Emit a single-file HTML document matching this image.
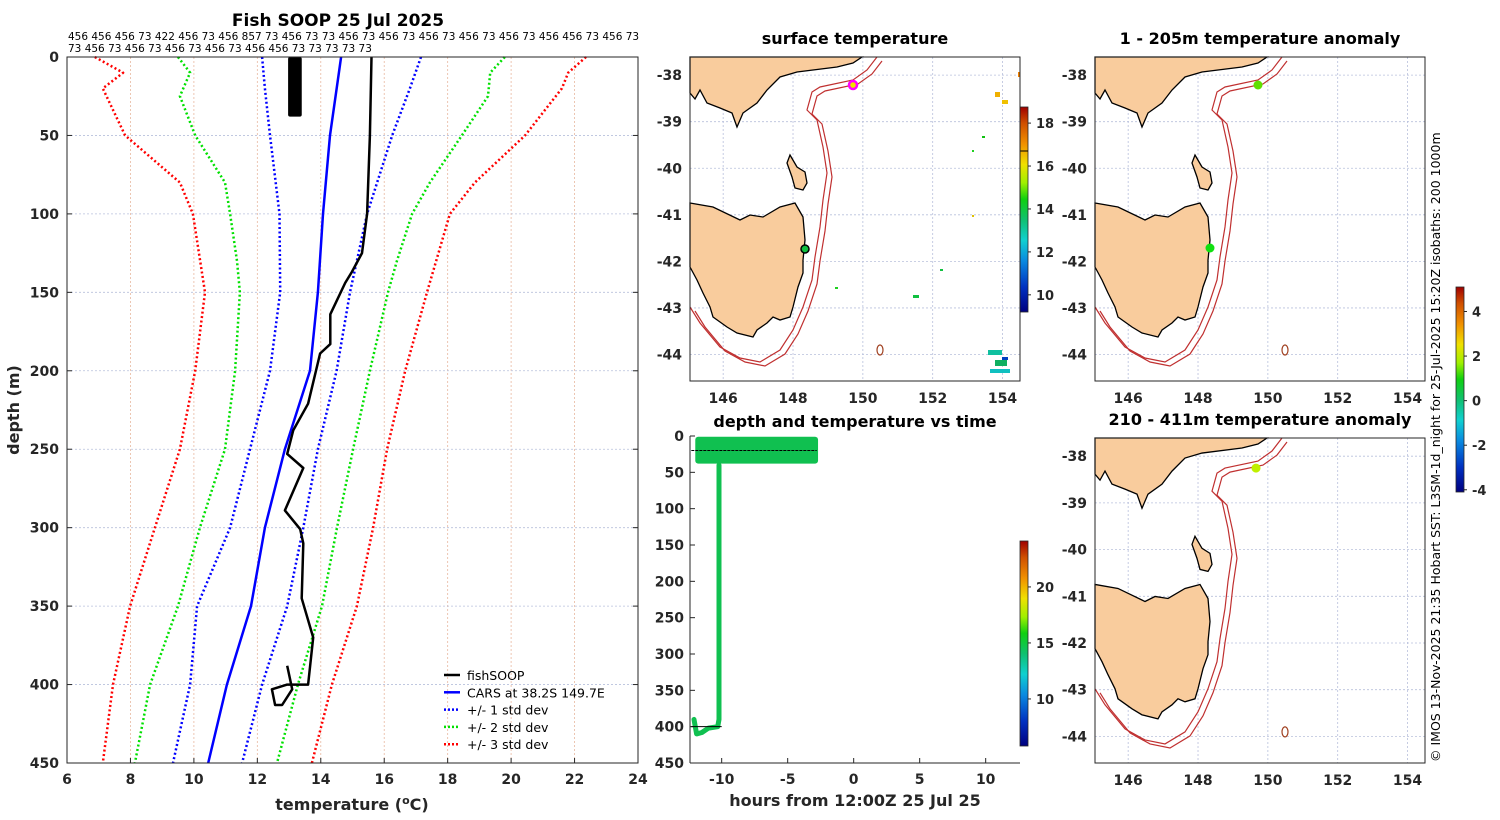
<!DOCTYPE html>
<html><head><meta charset="utf-8">
<style>
html,body{margin:0;padding:0;background:#fff;}
svg{display:block;font-family:"DejaVu Sans","Liberation Sans",sans-serif;}
.tk{font-size:14px;font-weight:bold;fill:#262626;}
.ttl{font-size:16px;font-weight:bold;fill:#000;}
.grid{stroke:#b8c0dc;stroke-width:0.8;stroke-dasharray:2,2;}
.vgrid{stroke:#e8b8a0;stroke-width:0.8;stroke-dasharray:2,2;}
</style></head>
<body>
<svg id="fig" width="1500" height="820" viewBox="0 0 1500 820" xmlns="http://www.w3.org/2000/svg">
<defs>
<linearGradient id="jet" x1="0" y1="1" x2="0" y2="0">
<stop offset="0" stop-color="#00007f"/><stop offset="0.12" stop-color="#0030c0"/><stop offset="0.25" stop-color="#0a8ae0"/><stop offset="0.35" stop-color="#10d0d0"/><stop offset="0.45" stop-color="#10c070"/><stop offset="0.55" stop-color="#10d010"/><stop offset="0.63" stop-color="#a0f000"/><stop offset="0.72" stop-color="#f0e000"/><stop offset="0.82" stop-color="#f09000"/><stop offset="0.92" stop-color="#d05000"/><stop offset="1" stop-color="#a00000"/>
</linearGradient>
</defs>
<g id="root"></g>
</svg>
<script>
// ---------- profile data (depth in m, temperature in degC) ----------
var fishDepth=[0,50,100,125,137,144,164,183,189,221,238,253,262,289,301,310,345,370,400,400,403,413,413,403,388];
var fishTemp=[15.6,15.55,15.46,15.3,14.98,14.77,14.3,14.3,13.98,13.6,13.13,12.94,13.45,12.87,13.35,13.45,13.4,13.76,13.6,12.94,12.46,12.56,12.78,13.1,12.94];
var carsDepth=[0,10,50,100,150,200,250,300,350,400,450];
var carsTemp=[14.64,14.57,14.29,14.07,13.91,13.66,12.87,12.24,11.8,11.04,10.45];
var stdDepth=[0,20,50,100,150,200,250,300,350,400,450];
var std1Lo=[12.15,12.24,12.4,12.7,12.72,12.4,11.77,11.14,10.1,9.88,9.34];
var std1Hi=[17.16,16.81,16.25,15.46,14.92,14.5,13.91,13.45,12.94,12.15,11.52];
var std2Depth=[0,10,25,50,80,100,130,150,200,250,300,350,400,450];
var std2Lo=[9.5,9.88,9.56,10.04,10.98,11.14,11.36,11.45,11.3,10.98,10.19,9.5,8.62,8.14];
var std2Hi=[19.8,19.34,19.27,18.45,17.44,16.88,16.4,16.12,15.55,15.02,14.51,14.04,13.28,12.62];
var std3Depth=[0,10,20,50,80,100,150,200,250,300,350,400,450];
var std3Lo=[6.88,7.77,7.13,7.83,9.56,9.97,10.35,10.04,9.56,8.77,7.99,7.45,7.13];
var std3Hi=[22.36,21.8,21.6,20.44,18.86,18.07,17.35,16.66,16.09,15.65,15.14,14.35,13.72];
var blobDepth=[0,38];
var blobTemp=[12.97,13.4];
var tempTicks=[6,8,10,12,14,16,18,20,22,24];
var depthTicks=[0,50,100,150,200,250,300,350,400,450];
// ---------- time series data (hours, depth) ----------
var tsHours=[-12,-2.7];
var tsTop=[1,1];
var tsBottom=[38,38];
var diveHours=[-10.2,-10.2,-10.2,-10.2,-10.3,-11.0,-11.5,-11.9,-12.1];
var diveDepth=[40,150,300,390,400,402,408,410,390];
var hourTicks=[-10,-5,0,5,10];
var tsDepthTicks=[0,50,100,150,200,250,300,350,400,450];
// ---------- map data ----------
var lonTicks=[146,148,150,152,154];
var latTicks=[-38,-39,-40,-41,-42,-43,-44];
var sstTicks=[10,12,14,16,18];
var ts2Ticks=[10,15,20];
var anomTicks=[-4,-2,0,2,4];

var NS="http://www.w3.org/2000/svg";
var root=document.getElementById('root');
function el(tag,attrs,parent,text){var e=document.createElementNS(NS,tag);for(var k in attrs)e.setAttribute(k,attrs[k]);if(text!==undefined)e.textContent=text;(parent||root).appendChild(e);return e;}

// ===== Panel 1: depth profile =====
var P1={x0:67,x1:638,y0:57,y1:763};
function tx(t){return P1.x0+(t-6)/(24-6)*(P1.x1-P1.x0);}
function dy(d){return P1.y0+d/450*(P1.y1-P1.y0);}
var g1=el('g',{});


tempTicks.forEach(function(t){
  if(t>6&&t<24){el('line',{x1:tx(t),x2:tx(t),y1:P1.y0,y2:P1.y1,'class':'vgrid'},g1);}
  el('line',{x1:tx(t),x2:tx(t),y1:P1.y1,y2:P1.y1-5,stroke:'#262626'},g1);
  var lab=el('text',{x:tx(t),y:P1.y1+21,'text-anchor':'middle','class':'tk'},g1,String(t));
  
  
});
depthTicks.forEach(function(d){
  if(d>0&&d<450){el('line',{x1:P1.x0,x2:P1.x1,y1:dy(d),y2:dy(d),'class':'grid'},g1);}
  el('line',{x1:P1.x0,x2:P1.x0+5,y1:dy(d),y2:dy(d),stroke:'#262626'},g1);
  el('line',{x1:P1.x1,x2:P1.x1-5,y1:dy(d),y2:dy(d),stroke:'#262626'},g1);
  var lab=el('text',{x:P1.x0-8,y:dy(d)+5,'text-anchor':'end','class':'tk'},g1,String(d));
  
  
});
function prof(depths,temps,color,w,dash,name){
  var pts=depths.map(function(d,i){return tx(temps[i]).toFixed(1)+','+dy(d).toFixed(1);}).join(' ');
  var p=el('polyline',{points:pts,fill:'none',stroke:color,'stroke-width':w,'stroke-linejoin':'round'},g1);
  if(dash)p.setAttribute('stroke-dasharray',dash);
  
  
}
prof(std3Depth,std3Lo,'#ff0000',2.5,'2,2.5','std3-lower-line');
prof(std3Depth,std3Hi,'#ff0000',2.5,'2,2.5','std3-upper-line');
prof(std2Depth,std2Lo,'#00e000',2.5,'2,2.5','std2-lower-line');
prof(std2Depth,std2Hi,'#00e000',2.5,'2,2.5','std2-upper-line');
prof(stdDepth,std1Lo,'#0000ff',2.5,'2,2.5','std1-lower-line');
prof(stdDepth,std1Hi,'#0000ff',2.5,'2,2.5','std1-upper-line');
prof(carsDepth,carsTemp,'#0000ff',2.5,null,'cars-line');
prof(fishDepth,fishTemp,'#000',2.5,null,'fishsoop-line');
var blob=el('rect',{x:tx(blobTemp[0]),y:dy(blobDepth[0]),width:tx(blobTemp[1])-tx(blobTemp[0]),height:dy(blobDepth[1])-dy(blobDepth[0]),fill:'#000',rx:2},g1);


el('rect',{x:P1.x0,y:P1.y0,width:P1.x1-P1.x0,height:P1.y1-P1.y0,fill:'none',stroke:'#262626','stroke-width':1},g1);
// legend
var leg=el('g',{},g1);


[['fishSOOP','#000',null],['CARS at 38.2S 149.7E','#0000ff',null],['+/- 1 std dev','#0000ff','2,2'],['+/- 2 std dev','#00e000','2,2'],['+/- 3 std dev','#ff0000','2,2']].forEach(function(e,i){
  var y=675+i*17.3;
  var ln=el('line',{x1:444,x2:460,y1:y,y2:y,stroke:e[1],'stroke-width':2.5},leg);
  if(e[2])ln.setAttribute('stroke-dasharray',e[2]);
  var t=el('text',{x:467,y:y+5,'font-size':'12.5px',fill:'#000'},leg,e[0]);
  
  
});
var t;
t=el('text',{x:338,y:26,'text-anchor':'middle',style:'font-size:17px;font-weight:bold'},g1,'Fish SOOP 25 Jul 2025');


t=el('text',{x:68,y:40,style:'font-size:10.5px'},g1,'456 456 456 73 422 456 73 456 857 73 456 73 73 456 73  456 73 456 73 456 73 456 73 456 456 73 456 73');


t=el('text',{x:68,y:52,style:'font-size:10.5px'},g1,'73 456 73 456 73 456 73 456 73  456 456 73 73 73 73 73');


t=el('text',{x:352,y:810,'text-anchor':'middle',style:'font-size:16px;font-weight:bold;fill:#262626'},g1);
t.innerHTML='temperature (<tspan dy="-6" font-size="11">o</tspan><tspan dy="6">C)</tspan>';


t=el('text',{x:0,y:0,transform:'translate(19,410) rotate(-90)','text-anchor':'middle',style:'font-size:16px;font-weight:bold;fill:#262626'},g1,'depth (m)');



// ===== Panel: time series =====
var P2={x0:690,x1:1020,y0:436,y1:763};
function hx(h){return P2.x0+(h+12.4)/25*(P2.x1-P2.x0);}
function ty(d){return P2.y0+d/450*(P2.y1-P2.y0);}
var g2=el('g',{});


hourTicks.forEach(function(h){
  el('line',{x1:hx(h),x2:hx(h),y1:P2.y1,y2:P2.y1-5,stroke:'#262626'},g2);
  var lab=el('text',{x:hx(h),y:P2.y1+21,'text-anchor':'middle','class':'tk'},g2,String(h));
  
  
});
tsDepthTicks.forEach(function(d){
  el('line',{x1:P2.x0,x2:P2.x0+5,y1:ty(d),y2:ty(d),stroke:'#262626'},g2);
  var lab=el('text',{x:P2.x0-6,y:ty(d)+5,'text-anchor':'end','class':'tk'},g2,String(d));
  
  
});
var br=el('rect',{x:hx(tsHours[0]),y:ty(tsTop[0]),width:hx(tsHours[1])-hx(tsHours[0]),height:ty(tsBottom[0])-ty(tsTop[0]),fill:'#10c050',rx:3},g2);


var dv=el('polyline',{points:diveHours.map(function(h,i){return hx(h).toFixed(1)+','+ty(diveDepth[i]).toFixed(1);}).join(' '),fill:'none',stroke:'#10c050','stroke-width':5,'stroke-linejoin':'round','stroke-linecap':'round'},g2);


var bl=el('line',{x1:hx(-12.3),x2:hx(-2.8),y1:ty(20),y2:ty(20),stroke:'#000','stroke-width':1,'stroke-dasharray':'3,1'},g2);


el('line',{x1:hx(-12.3),x2:hx(-10),y1:ty(400),y2:ty(400),stroke:'#000','stroke-width':1},g2);
el('line',{x1:P2.x0,x2:P2.x0,y1:P2.y0,y2:P2.y1,stroke:'#262626'},g2);
el('line',{x1:P2.x0,x2:P2.x1,y1:P2.y1,y2:P2.y1,stroke:'#262626'},g2);
t=el('text',{x:855,y:427,'text-anchor':'middle','class':'ttl'},g2,'depth and temperature vs time');


t=el('text',{x:855,y:806,'text-anchor':'middle',style:'font-size:16px;font-weight:bold;fill:#262626'},g2,'hours from 12:00Z 25 Jul 25');



// ===== colorbars =====
function colorbar(x,y0,y1,vmin,vmax,ticks,name,line){
  var g=el('g',{});
  
  
  el('rect',{x:x,y:y0,width:8,height:y1-y0,fill:'url(#jet)',stroke:'#262626','stroke-width':0.8},g);
  ticks.forEach(function(v){
    var y=y1-(v-vmin)/(vmax-vmin)*(y1-y0);
    el('line',{x1:x+8,x2:x+11,y1:y,y2:y,stroke:'#262626'},g);
    var l=el('text',{x:x+16,y:y+5,style:'font-size:13px;font-weight:bold;fill:#262626'},g,String(v));
    
    
  });
  if(line!==undefined){var yy=y1-(line-vmin)/(vmax-vmin)*(y1-y0);el('line',{x1:x,x2:x+8,y1:yy,y2:yy,stroke:'#000'},g);}
}
colorbar(1020,107,312,9.2,18.75,sstTicks,'sst-colorbar',16.7);
colorbar(1020,541,746,5.8,24.1,ts2Ticks,'depth-temp-colorbar');
colorbar(1456,287,492,-4.1,5.1,anomTicks,'anomaly-colorbar');

// ===== maps =====
var vic='M0,0 L172,0 L163,6 L147,10 L107,15 L90,20 L77,33 L67,46 L53,56 L47,70 L42,56 L30,51 L17,46 L10,33 L5,42 L0,36 Z';
var tas='M0,146 L23,150 L50,163 L60,158 L73,160 L90,150 L105,146 L113,160 L115,183 L113,203 L113,216 L108,230 L103,250 L100,260 L90,263 L83,260 L77,266 L67,273 L63,280 L47,276 L37,270 L23,260 L20,250 L13,236 L7,223 L0,210 Z';
var flin='M100,98 L107,110 L115,115 L117,126 L113,133 L105,131 L102,120 L97,106 Z';
var iso='M187,0 L177,13 L163,23 L130,30 L122,35 L117,53 L127,63 L133,90 L137,116 L133,143 L130,170 L125,200 L122,223 L113,250 L103,273 L90,293 L70,305 L50,301 L30,290 L10,266 L0,250';
function map(ox,oy,sy,name,title,markers,pixels){
  var g=el('g',{});
  
  
  var W=330,H=324*sy;
  var lonX=function(l){return ox+(l-145.05)/9.45*W;};
  var latY=function(l){return oy+(-37.61-l)/6.96*H;};
  lonTicks.forEach(function(l){el('line',{x1:lonX(l),x2:lonX(l),y1:oy,y2:oy+H,'class':'grid'},g);
    var lab=el('text',{x:lonX(l),y:oy+H+22,'text-anchor':'middle','class':'tk'},g,String(l));
    
    });
  latTicks.forEach(function(l){el('line',{x1:ox,x2:ox+W,y1:latY(l),y2:latY(l),'class':'grid'},g);
    var lab=el('text',{x:ox-8,y:latY(l)+5,'text-anchor':'end','class':'tk'},g,String(l));
    
    });
  var m=el('g',{transform:'translate('+ox+','+oy+') scale(1,'+sy+')'},g);
  [vic,tas,flin].forEach(function(d){var p=el('path',{d:d,fill:'#f9cc9d',stroke:'#000','stroke-width':1.3},m);
    
    });
  var i1=el('path',{d:iso,fill:'none',stroke:'#c03030','stroke-width':1.2},m);
  
  
  var i2=el('path',{d:iso,fill:'none',stroke:'#c03030','stroke-width':1.2,transform:'translate(5,4)'},m);
  
  
  el('ellipse',{cx:190,cy:293,rx:3,ry:5,fill:'none',stroke:'#a04020','stroke-width':1.2},m);
  (pixels||[]).forEach(function(p){el('rect',{x:p[0],y:p[1],width:p[2],height:p[3],fill:p[4]},m);});
  markers.forEach(function(k){var c=el('circle',{cx:k[0],cy:k[1],r:k[2],fill:k[3],stroke:k[4],'stroke-width':k[5]},m);
    
    });
  el('rect',{x:ox,y:oy,width:W,height:H,fill:'none',stroke:'#262626'},g);
  var tt=el('text',{x:ox+165,y:oy-13,'text-anchor':'middle','class':'ttl'},g,title);
  
  
}
var sstPix=[[312,43,6,4,'#f0c000'],[305,35,5,5,'#f0b000'],[328,15,2,5,'#f08000'],[292,79,3,2,'#10c010'],[282,93,2,2,'#20d020'],[282,158,2,2,'#e0c000'],[223,238,6,3,'#10c040'],[250,212,3,2,'#10c040'],[145,230,3,2,'#20d020'],[298,293,14,5,'#10c0a0'],[305,303,12,6,'#10b060'],[300,312,20,4,'#10c0c0'],[312,300,6,3,'#0040c0']];
map(690,57,1,'sst-map','surface temperature',[[163,28,4,'#f0e000','#ff00ff',2.5],[115,192,4,'#10c040','#000',1.5]],sstPix);
map(1095,57,1,'anomaly-map-1-205m','1 - 205m temperature anomaly',[[163,28,4.5,'#60e000','none',0],[115,191,4.5,'#10e010','none',0]]);
map(1095,438,325/324,'anomaly-map-210-411m','210 - 411m temperature anomaly',[[161,30,4.5,'#c0f000','none',0]]);

t=el('text',{x:0,y:0,transform:'translate(1440,762) rotate(-90)',style:'font-size:12.5px;fill:#000'},null,'\u00a9 IMOS 13-Nov-2025 21:35 Hobart SST: L3SM-1d_night for 25-Jul-2025 15:20Z isobaths: 200  1000m');


</script>
</body></html>
